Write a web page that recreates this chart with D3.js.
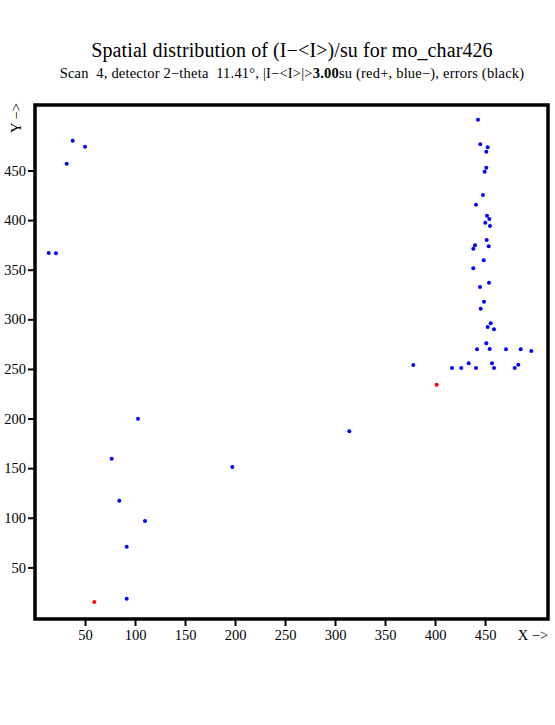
<!DOCTYPE html>
<html>
<head>
<meta charset="utf-8">
<script src="https://cdn.jsdelivr.net/npm/d3@7"></script>
<style>
  body { margin: 0; background: #fff; }
  text { font-family: 'Liberation Serif', 'DejaVu Serif', serif; fill: #000; }
</style>
</head>
<body>
<svg id="chart"></svg>
<script>
// detector positions of the outliers
const blueX = [37.7, 50, 31.7, 13.7, 21, 103, 76.7, 84.3, 110, 91.7, 91.7, 197.3, 314.3, 378.3,
    443, 445.3, 452.7, 451.3, 451.3, 449.7, 448, 441, 452, 454.3, 450.3, 455, 451.7, 440, 453.7,
    438.3, 448.7, 438.3, 454, 445, 449, 445.7, 455.7, 452.7, 459, 451.3, 442, 454.7, 471, 485.7,
    496.3, 417, 426.3, 433.7, 441, 457, 459, 479.7, 483.3];
const blueY = [480, 474, 456.9, 366.9, 366.6, 199.8, 159.5, 117.2, 96.8, 70.9, 18.4, 151.2, 187.2, 254,
    501.2, 476.4, 473.4, 469, 452.8, 448.8, 425.3, 415.5, 404.5, 401.1, 397.4, 394.1, 380, 374.6, 373.6,
    371.2, 359.5, 351.4, 336.9, 332.6, 317.8, 310.7, 296, 292.3, 290, 275.9, 269.8, 270.1, 269.8, 269.8,
    268.1, 251, 251, 255.7, 251, 255.7, 251, 251, 254.3];
const redX = [59.3, 401.7];
const redY = [15.1, 234.1];
const xTicks = [50, 100, 150, 200, 250, 300, 350, 400, 450];
const yTicks = [50, 100, 150, 200, 250, 300, 350, 400, 450];

const width = 555, height = 725;

const svg = d3.select('#chart')
    .attr('width', width)
    .attr('height', height);

// scales: roughly one pixel per detector unit
const x = d3.scaleLinear().domain([0, 513]).range([35, 548]);
const y = d3.scaleLinear().domain([0, 516]).range([617, 105]);

// title + subtitle
svg.append('text')
    .attr('x', 292).attr('y', 57)
    .attr('text-anchor', 'middle')
    .style('font-size', '20px')
    .style('letter-spacing', '0.1px')
    .text('Spatial distribution of (I\u2212<I>)/su for mo_char426');

const sub = svg.append('text')
    .attr('x', 292).attr('y', 78)
    .attr('text-anchor', 'middle')
    .style('font-size', '14.5px')
    .style('white-space', 'pre')
    .style('letter-spacing', '0.2px');
sub.append('tspan').text('Scan  4, detector 2\u2212theta  11.41\u00b0, |I\u2212<I>|>');
sub.append('tspan').style('font-weight', 'bold').text('3.00');
sub.append('tspan').text('su (red+, blue\u2212), errors (black)');

// x axis
svg.append('g')
    .attr('transform', 'translate(0,' + y(-2) + ')')
    .call(d3.axisBottom(x).tickValues(xTicks).tickSize(7).tickPadding(4))
    .call(g => g.select('.domain').remove())
    .call(g => g.selectAll('line').attr('stroke-width', 2))
    .selectAll('text')
    .style('font-size', '14.5px')
    .style('font-family', "'Liberation Serif', serif");

// y axis
svg.append('g')
    .attr('transform', 'translate(' + x(0) + ',0)')
    .call(d3.axisLeft(y).tickValues(yTicks).tickSize(7).tickPadding(2))
    .call(g => g.select('.domain').remove())
    .call(g => g.selectAll('line').attr('stroke-width', 2))
    .selectAll('text')
    .style('font-size', '14.5px')
    .style('font-family', "'Liberation Serif', serif");

// axis labels
svg.append('text')
    .attr('x', 533).attr('y', 640)
    .attr('text-anchor', 'middle')
    .style('font-size', '14.5px')
    .text('X \u2212>');

svg.append('text')
    .attr('transform', 'translate(21,118) rotate(-90)')
    .attr('text-anchor', 'middle')
    .style('font-size', '14.5px')
    .text('Y \u2212>');

// frame
svg.append('rect')
    .attr('x', x(0)).attr('y', y(516))
    .attr('width', x(513) - x(0))
    .attr('height', y(-2) - y(516))
    .attr('fill', 'none')
    .attr('stroke', '#000')
    .attr('stroke-width', 3.5);

// points
svg.selectAll('circle.blue')
    .data(d3.range(blueX.length))
    .enter()
    .append('circle')
    .attr('class', 'blue')
    .attr('cx', i => x(blueX[i]))
    .attr('cy', i => y(blueY[i]))
    .attr('r', 2)
    .attr('fill', '#0000ff');

svg.selectAll('circle.red')
    .data(d3.range(redX.length))
    .enter()
    .append('circle')
    .attr('class', 'red')
    .attr('cx', i => x(redX[i]))
    .attr('cy', i => y(redY[i]))
    .attr('r', 2)
    .attr('fill', '#ff0000');
</script>
</body>
</html>
